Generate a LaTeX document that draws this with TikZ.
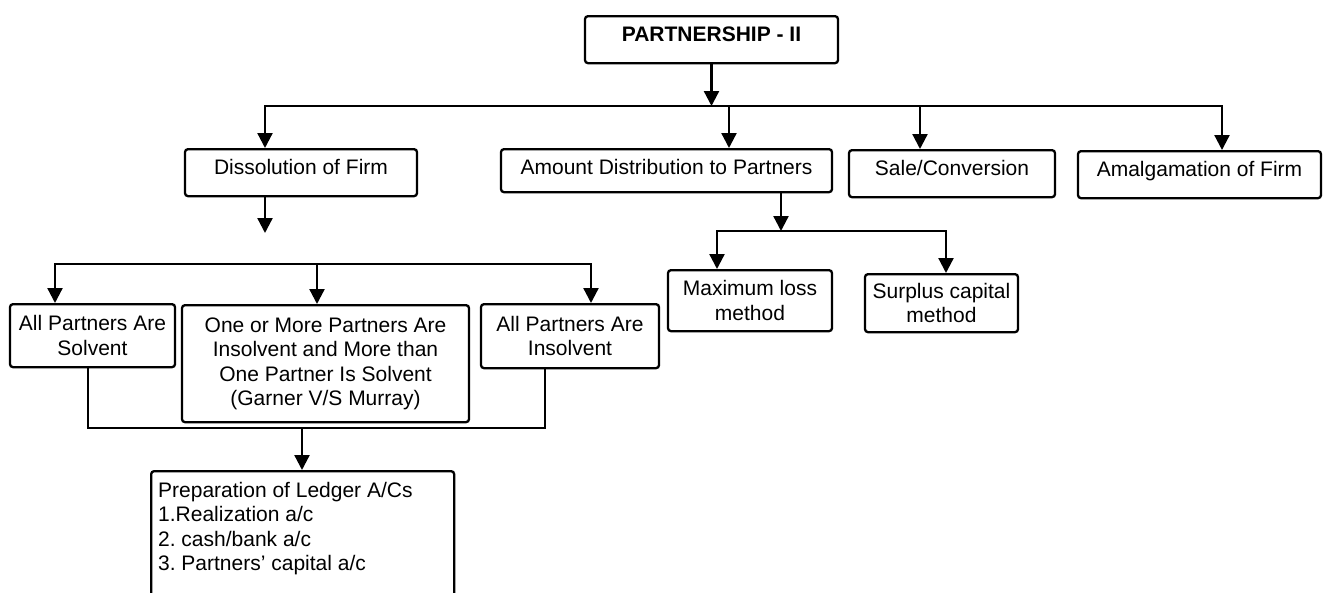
\documentclass[tikz,border=0pt]{standalone}
\usepackage{fontspec}
\setmainfont{Liberation Sans}
\usetikzlibrary{arrows.meta}
\frenchspacing

\begin{document}
\begin{tikzpicture}[x=1pt,y=-1pt,
  box/.style={draw,line width=2.3pt,rounded corners=3pt,inner sep=0pt,align=center,font=\fontsize{21}{24.5}\selectfont},
  onebox/.style={box,text height=25pt,text depth=22pt},
  ln/.style={line width=2.3pt,line cap=rect},
  arr/.style={ln,-{Triangle[width=15pt,length=15pt]}}]
\useasboundingbox (0,0) rectangle (1323,592);
\node[onebox,minimum width=253pt,anchor=north,font=\fontsize{21}{24.5}\selectfont\bfseries] (top) at (711.5,15) {PARTNERSHIP - II};
\node[onebox,minimum width=232pt,anchor=north] (diss) at (301,148) {Dissolution of Firm};
\node[onebox,minimum width=331pt,text depth=18pt,anchor=north] (amount) at (666.5,148) {Amount Distribution to Partners};
\node[onebox,minimum width=206pt,anchor=north] (sale) at (952,149) {Sale/Conversion};
\node[onebox,minimum width=243pt,anchor=north] (amalg) at (1199.5,150) {Amalgamation of Firm};
\node[box,minimum width=165pt,minimum height=63pt,anchor=north] (solv) at (92.5,303) {All Partners Are\\Solvent};
\node[box,minimum width=287pt,minimum height=117pt,anchor=north] (garner) at (325.5,304) {One or More Partners Are\\Insolvent and More than\\One Partner Is Solvent\\(Garner V/S Murray)};
\node[box,minimum width=178pt,minimum height=64pt,anchor=north] (insolv) at (570,303) {All Partners Are\\Insolvent};
\node[box,minimum width=164pt,minimum height=61pt,anchor=north] (maxloss) at (750,269) {Maximum loss\\method};
\node[box,minimum width=153pt,minimum height=58pt,anchor=north] (surplus) at (941.5,273) {Surplus capital\\method};
\node[box,anchor=north west,inner xsep=7pt,inner ysep=11pt] (ledger) at (150,470) {\parbox[t][150pt][t]{289pt}{Preparation of Ledger A/Cs\\1.Realization a/c\\2. cash/bank a/c\\3. Partners’ capital a/c}};

\coordinate (b1) at (265,106);
\coordinate (b2) at (729,106);
\coordinate (b3) at (920,106);
\coordinate (b4) at (1222,106);
\draw[ln] (b1) -- (b4);
\draw[arr] (top) -- (top |- b1);
\draw[arr] (b1) -- (b1 |- diss.north);
\draw[arr] (b2) -- (b2 |- amount.north);
\draw[arr] (b3) -- (b3 |- sale.north);
\draw[arr] (b4) -- (b4 |- amalg.north);

\coordinate (dend) at (265,233);
\draw[arr] (dend |- diss.south) -- (dend);
\coordinate (c1) at (55,264);
\coordinate (c2) at (317,264);
\coordinate (c3) at (591,264);
\draw[ln] (c1) -- (c3);
\draw[arr] (c1) -- (c1 |- solv.north);
\draw[arr] (c2) -- (c2 |- garner.north);
\draw[arr] (c3) -- (c3 |- insolv.north);

\coordinate (j0) at (302,428);
\coordinate (j1) at (88,428);
\coordinate (j2) at (545,428);
\draw[ln] (j1 |- solv.south) -- (j1) -- (j2) -- (j2 |- insolv.south);
\draw[arr] (j0) -- (j0 |- ledger.north);

\coordinate (k0) at (781,231);
\coordinate (k1) at (717,231);
\coordinate (k2) at (946,231);
\draw[arr] (k0 |- amount.south) -- (k0);
\draw[ln] (k1) -- (k2);
\draw[arr] (k1) -- (k1 |- maxloss.north);
\draw[arr] (k2) -- (k2 |- surplus.north);
\end{tikzpicture}
\end{document}
